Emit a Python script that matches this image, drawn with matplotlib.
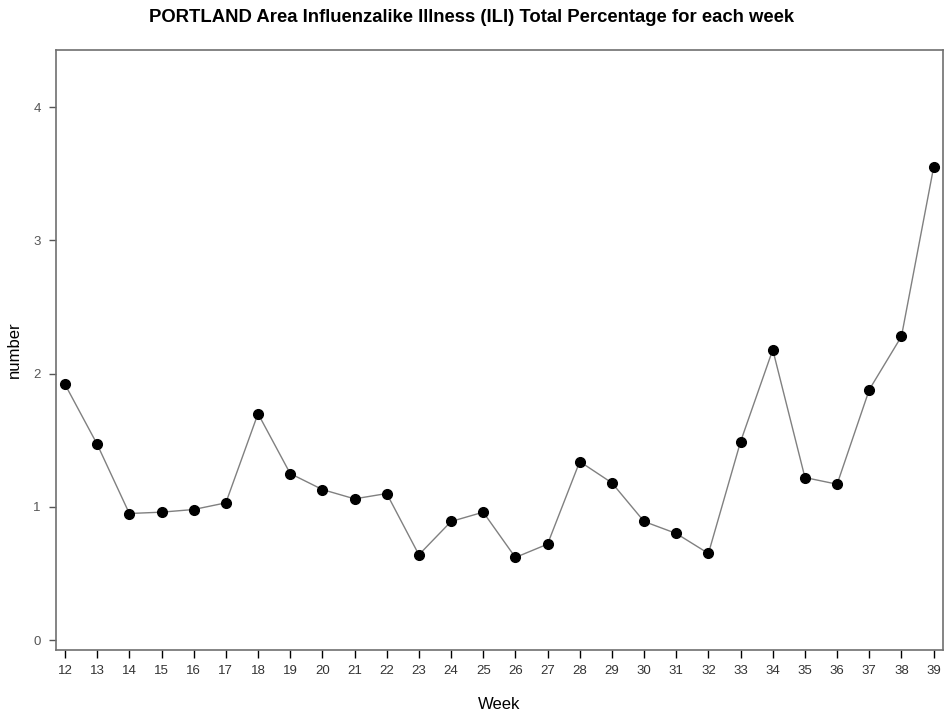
import numpy as np
import matplotlib.pyplot as plt

plt.rcParams['font.family'] = ['Liberation Sans', 'DejaVu Sans']

weeks = list(range(12, 40))
ili = [1.92, 1.47, 0.95, 0.96, 0.98, 1.03, 1.70, 1.25, 1.13, 1.06,
       1.10, 0.64, 0.89, 0.96, 0.62, 0.72, 1.34, 1.18, 0.89, 0.80,
       0.65, 1.49, 2.18, 1.22, 1.17, 1.88, 2.28, 3.55]
yticks = [0, 1, 2, 3, 4]

fig = plt.figure(figsize=(9.44, 7.15), dpi=100)
ax = fig.add_axes([0.0593, 0.0909, 0.9396, 0.8391])

ax.plot(weeks, ili, color='#808080', linewidth=1, zorder=1)
ax.plot(weeks, ili, 'o', color='black', markersize=7, zorder=2)

ax.set_xlim(11.72, 39.29)
ax.set_ylim(-0.075, 4.43)
ax.set_xticks(weeks)
ax.set_yticks(yticks)
ax.tick_params(axis='x', length=6, width=1, color='black', labelsize=9.5,
               labelcolor='#333333', pad=5)
ax.tick_params(axis='y', length=5, width=1, color='#555555', labelsize=9.5,
               labelcolor='#555555', pad=6)
for s in ax.spines.values():
    s.set_color('#707070')
    s.set_linewidth(1.2)

ax.set_xlabel('Week', fontsize=12, labelpad=14)
ax.set_ylabel('number', fontsize=12, labelpad=8)
fig.suptitle('PORTLAND Area Influenzalike Illness (ILI) Total Percentage for each week',
             fontsize=13.3, fontweight='bold', y=0.988)

plt.savefig('out.png', dpi=100)
